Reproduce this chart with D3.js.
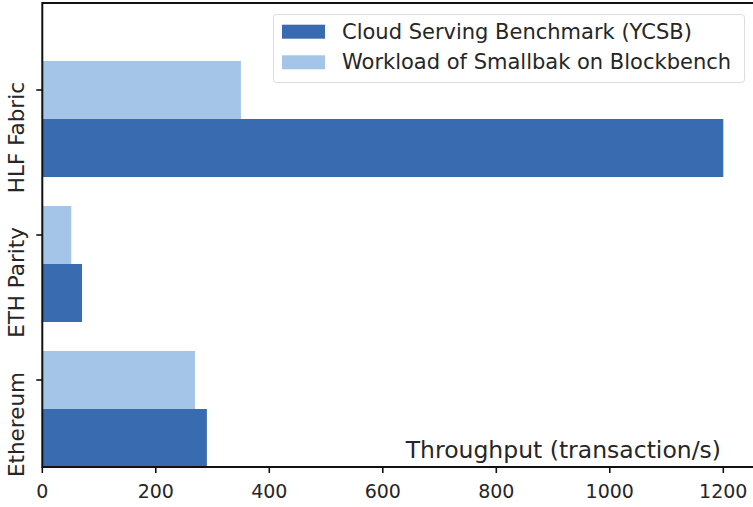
<!DOCTYPE html>
<html>
<head>
<meta charset="utf-8">
<script src="https://cdn.jsdelivr.net/npm/d3@7"></script>
<style>
  body { margin: 0; background: #fff; }
  text { font-family: "DejaVu Sans", sans-serif; fill: #262626; }
</style>
</head>
<body>
<svg id="chart" width="753" height="507"></svg>
<script>
// data
const categories = ['Ethereum', 'ETH Parity', 'HLF Fabric'];
const seriesNames = ['Cloud Serving Benchmark (YCSB)', 'Workload of Smallbak on Blockbench'];
const ycsb = [290, 70, 1200];
const smallbank = [269, 51, 350];
const xTicks = [0, 200, 400, 600, 800, 1000, 1200];

const width = 753;
const height = 507;
const dark = '#386bb0';
const light = '#a5c5e8';

const svg = d3.select('#chart');

const x = d3.scaleLinear().domain([0, 1200]).range([42.3, 723.3]);
// category index on a linear axis, light bar centered on the tick, dark bar below it
const y = d3.scaleLinear().domain([-0.6, 2.6]).range([467, 3]);
const barH = y(0) - y(0.4);

const rows = categories.map((c, i) => ({ cat: c, i, ycsb: ycsb[i], small: smallbank[i] }));

// smallbank bars (light)
svg.append('g').selectAll('rect')
  .data(rows)
  .join('rect')
  .attr('x', x(0))
  .attr('y', d => y(d.i + 0.2))
  .attr('width', d => x(d.small) - x(0))
  .attr('height', barH)
  .attr('fill', light);

// ycsb bars (dark)
svg.append('g').selectAll('rect')
  .data(rows)
  .join('rect')
  .attr('x', x(0))
  .attr('y', d => y(d.i - 0.2))
  .attr('width', d => x(d.ycsb) - x(0))
  .attr('height', barH)
  .attr('fill', dark);

// spines
svg.append('line').attr('x1', x(0)).attr('x2', width).attr('y1', y(-0.6)).attr('y2', y(-0.6))
  .attr('stroke', '#111').attr('stroke-width', 2);
svg.append('line').attr('x1', x(0)).attr('x2', width).attr('y1', y(2.6)).attr('y2', y(2.6))
  .attr('stroke', '#111').attr('stroke-width', 2);
svg.append('line').attr('x1', x(0)).attr('x2', x(0)).attr('y1', y(2.6) - 1).attr('y2', y(-0.6) + 1)
  .attr('stroke', '#111').attr('stroke-width', 2);

// x axis ticks
const xg = svg.append('g');
xg.selectAll('line')
  .data(xTicks)
  .join('line')
  .attr('x1', d => x(d)).attr('x2', d => x(d))
  .attr('y1', y(-0.6)).attr('y2', y(-0.6) + 6)
  .attr('stroke', '#111').attr('stroke-width', 1.6);
xg.selectAll('text')
  .data(xTicks)
  .join('text')
  .attr('x', d => x(d))
  .attr('y', 498)
  .attr('text-anchor', 'middle')
  .style('font-size', '19px')
  .text(d => d);

// y axis ticks + rotated labels
const yg = svg.append('g');
yg.selectAll('line')
  .data(rows)
  .join('line')
  .attr('x1', x(0) - 6).attr('x2', x(0))
  .attr('y1', d => y(d.i)).attr('y2', d => y(d.i))
  .attr('stroke', '#111').attr('stroke-width', 1.6);
yg.selectAll('text')
  .data(rows)
  .join('text')
  .attr('transform', d => `translate(23.5,${y(d.i) - 8}) rotate(-90)`)
  .attr('text-anchor', 'end')
  .style('font-size', '21.5px')
  .text(d => d.cat);

// x axis label inside the plot
svg.append('text')
  .attr('x', 721)
  .attr('y', 458)
  .attr('text-anchor', 'end')
  .style('font-size', '23.5px')
  .text('Throughput (transaction/s)');

// legend
const lg = svg.append('g');
lg.append('rect')
  .attr('x', 273.5).attr('y', 14.5)
  .attr('width', 471).attr('height', 68)
  .attr('rx', 3)
  .attr('fill', 'rgba(255,255,255,0.8)')
  .attr('stroke', '#dcdcdc').attr('stroke-width', 1);
const items = [
  { name: seriesNames[0], color: dark },
  { name: seriesNames[1], color: light }
];
const li = lg.selectAll('g.item')
  .data(items)
  .join('g')
  .attr('class', 'item')
  .attr('transform', (d, i) => `translate(0,${i * 30.6})`);
li.append('rect')
  .attr('x', 282).attr('y', 24.7)
  .attr('width', 43).attr('height', 14)
  .attr('fill', d => d.color);
li.append('text')
  .attr('x', 342)
  .attr('y', 31.7)
  .attr('dominant-baseline', 'central')
  .style('font-size', '21px')
  .text(d => d.name);
</script>
</body>
</html>
